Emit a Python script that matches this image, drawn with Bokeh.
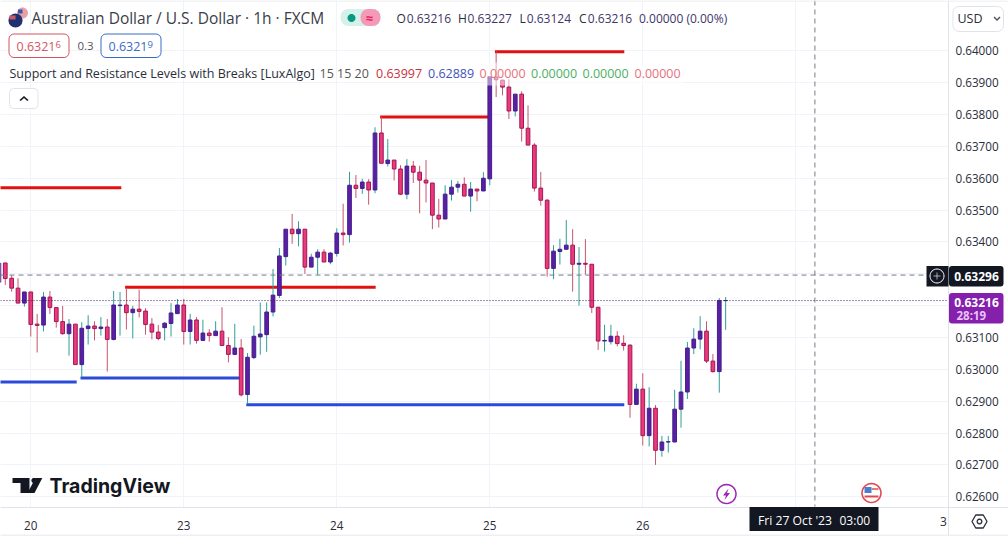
import numpy as np
from bokeh.plotting import figure
from bokeh.embed import file_html
from bokeh.resources import INLINE
from bokeh.models import Label, BoxAnnotation, PolyAnnotation, FixedTicker

opens = [0.63273,0.63334,0.63286,0.63255,0.63208,0.63243,0.63142,0.63139,0.63227,0.63194,0.63150,0.63112,0.63142,0.63015,0.63128,0.63136,0.63128,0.63133,0.63094,0.63200,
0.63202,0.63178,0.63189,0.63183,0.63142,0.63117,0.63131,0.63144,0.63175,0.63202,0.63119,0.63155,0.63091,0.63114,0.63106,0.63120,0.63075,0.63047,0.63067,0.62921,
0.63037,0.63102,0.63109,0.63180,0.63232,0.63354,0.63440,0.63426,0.63440,0.63321,0.63352,0.63368,0.63337,0.63364,0.63428,0.63423,0.63578,0.63568,0.63588,0.63563,
0.63742,0.63646,0.63657,0.63629,0.63550,0.63638,0.63619,0.63594,0.63585,0.63484,0.63472,0.63550,0.63572,0.63581,0.63544,0.63566,0.63560,0.63598,0.63918,0.63908,
0.63886,0.63811,0.63864,0.63757,0.63704,0.63569,0.63531,0.63317,0.63370,0.63377,0.63390,0.63330,0.63333,0.63330,0.63195,0.63089,0.63087,0.63104,0.63082,0.63076,
0.62890,0.62938,0.62792,0.62878,0.62746,0.62772,0.62772,0.62875,0.62929,0.63067,0.63095,0.63120,0.63026,0.62993,0.63216]
highs = [0.63334,0.63334,0.63295,0.63286,0.63243,0.63243,0.63174,0.63243,0.63246,0.63194,0.63199,0.63158,0.63142,0.63148,0.63170,0.63151,0.63164,0.63158,0.63246,0.63243,
0.63255,0.63199,0.63250,0.63192,0.63161,0.63139,0.63148,0.63208,0.63221,0.63221,0.63174,0.63164,0.63156,0.63126,0.63151,0.63195,0.63101,0.63143,0.63095,0.63051,
0.63137,0.63210,0.63210,0.63315,0.63381,0.63440,0.63488,0.63465,0.63440,0.63363,0.63377,0.63377,0.63368,0.63443,0.63520,0.63620,0.63610,0.63598,0.63597,0.63760,
0.63792,0.63723,0.63657,0.63641,0.63660,0.63654,0.63639,0.63657,0.63585,0.63535,0.63578,0.63594,0.63591,0.63603,0.63588,0.63566,0.63619,0.63919,0.63997,0.63908,
0.63911,0.63864,0.63873,0.63829,0.63710,0.63620,0.63535,0.63390,0.63410,0.63469,0.63440,0.63384,0.63409,0.63330,0.63195,0.63140,0.63140,0.63120,0.63107,0.63079,
0.62955,0.62988,0.62944,0.62888,0.62791,0.62791,0.62936,0.63027,0.63086,0.63129,0.63167,0.63151,0.63048,0.63224,0.63227]
lows = [0.63273,0.63265,0.63244,0.63208,0.63197,0.63103,0.63053,0.63119,0.63174,0.63131,0.63109,0.63043,0.63015,0.62976,0.63078,0.63091,0.63106,0.62993,0.63091,0.63106,
0.63125,0.63097,0.63163,0.63109,0.63094,0.63091,0.63091,0.63103,0.63174,0.63078,0.63078,0.63081,0.63091,0.63087,0.63106,0.63075,0.63022,0.63046,0.62915,0.62892,
0.63032,0.63046,0.63055,0.63166,0.63224,0.63326,0.63394,0.63386,0.63300,0.63321,0.63297,0.63337,0.63330,0.63354,0.63389,0.63398,0.63538,0.63551,0.63517,0.63553,
0.63647,0.63637,0.63593,0.63547,0.63534,0.63585,0.63490,0.63524,0.63440,0.63445,0.63472,0.63530,0.63555,0.63544,0.63495,0.63528,0.63560,0.63578,0.63855,0.63860,
0.63786,0.63794,0.63715,0.63704,0.63558,0.63514,0.63291,0.63283,0.63329,0.63377,0.63244,0.63200,0.63297,0.63177,0.63061,0.63056,0.63078,0.63072,0.63059,0.62848,
0.62890,0.62761,0.62758,0.62700,0.62726,0.62739,0.62772,0.62817,0.62907,0.63048,0.63063,0.63020,0.62990,0.62927,0.63124]
closes = [0.63334,0.63285,0.63255,0.63208,0.63243,0.63141,0.63138,0.63227,0.63194,0.63150,0.63112,0.63142,0.63015,0.63129,0.63136,0.63128,0.63133,0.63094,0.63202,0.63202,
0.63178,0.63189,0.63182,0.63141,0.63117,0.63097,0.63145,0.63177,0.63202,0.63119,0.63155,0.63091,0.63114,0.63106,0.63120,0.63075,0.63047,0.63067,0.62920,0.63038,
0.63104,0.63111,0.63180,0.63233,0.63356,0.63440,0.63426,0.63440,0.63321,0.63352,0.63368,0.63337,0.63365,0.63428,0.63423,0.63578,0.63568,0.63588,0.63563,0.63742,
0.63647,0.63657,0.63629,0.63550,0.63638,0.63619,0.63594,0.63585,0.63484,0.63472,0.63550,0.63572,0.63581,0.63544,0.63566,0.63560,0.63600,0.63918,0.63909,0.63886,
0.63811,0.63864,0.63757,0.63704,0.63569,0.63531,0.63317,0.63371,0.63377,0.63390,0.63330,0.63333,0.63330,0.63195,0.63089,0.63091,0.63104,0.63081,0.63075,0.62890,
0.62938,0.62792,0.62878,0.62746,0.62772,0.62773,0.62875,0.62929,0.63067,0.63095,0.63120,0.63026,0.62993,0.63216,0.63216]

resistance_start = [-2, 19.8, 59.8, 77.8]
resistance_end = [19.2, 59.1, 77, 98.1]
resistance_level = [0.63570, 0.63258, 0.63792, 0.63997]
support_start = [-2, 12.8, 38.8]
support_end = [12.2, 37.8, 98.1]
support_level = [0.62960, 0.62973, 0.62889]

price_ticks = [0.626,0.627,0.628,0.629,0.630,0.631,0.632,0.633,0.634,0.635,0.636,0.637,0.638,0.639,0.640]
day_ticks = [5, 29, 53, 77, 101, 125]
day_labels = ["20", "23", "24", "25", "26", "27"]
last_price = 0.63216
cross_price = 0.63296
cross_index = 128

# Pixel <-> data mapping of the frame, used for chrome placed by pixel
DX = 6.375
X0 = 1.6
PPU = 31857.0
def X(px): return (px + X0) / DX
def Y(py): return 0.64 - (py - 50.3) / PPU

TFONT = "Open Sans"
p = figure(frame_width=1008, frame_height=537, output_backend="svg", toolbar_location=None,
           x_range=(X(0), X(1008)), y_range=(Y(537), Y(0)), min_border=0, y_axis_location="right",
           background_fill_color="white", border_fill_color="white", outline_line_color=None)
p.styles = {"position": "absolute", "left": "0px", "top": "0px"}

p.xaxis.ticker = FixedTicker(ticks=day_ticks)
p.xaxis.major_label_overrides = dict(zip(day_ticks, day_labels))
p.xaxis.fixed_location = Y(506.5)
p.yaxis.ticker = FixedTicker(ticks=price_ticks)
p.yaxis.major_label_overrides = {t: f"{t:.5f}" for t in price_ticks}
p.yaxis.fixed_location = X(948)
for ax in (p.xaxis, p.yaxis):
    ax.axis_line_color = "#e0e3eb"
    ax.major_tick_line_color = None
    ax.minor_tick_line_color = None
    ax.major_label_text_font = TFONT
    ax.major_label_text_font_size = "11.7px"
    ax.major_label_text_color = "#2a2e39"
p.yaxis.major_label_standoff = 1
p.xaxis.major_label_standoff = 8
p.xgrid.grid_line_color = "#f0f3fa"
p.ygrid.grid_line_color = "#f0f3fa"
p.xgrid.ticker = FixedTicker(ticks=day_ticks)
p.ygrid.ticker = FixedTicker(ticks=price_ticks)

def L(text, px, py, size=12.5, color="#2a2e39", align="left", weight="normal", font=TFONT):
    p.add_layout(Label(x=X(px), y=Y(py), text=text, text_font=font, text_font_size=f"{size}px",
                       text_color=color, text_align=align, text_baseline="middle", text_font_style=weight))

def B(x0, x1, y0, y1, fill=None, line=None, alpha=1.0, radius=0, width=1, level="annotation"):
    p.add_layout(BoxAnnotation(left=X(x0), right=X(x1), bottom=Y(y1), top=Y(y0), fill_color=fill, fill_alpha=alpha if fill else 0,
                               line_color=line, line_alpha=1 if line else 0, line_width=width, border_radius=radius, level=level))

def P(xs, ys, fill=None, line=None, width=1.0):
    p.add_layout(PolyAnnotation(xs=[X(a) for a in xs], ys=[Y(b) for b in ys], fill_color=fill, fill_alpha=1 if fill else 0,
                                line_color=line, line_alpha=1 if line else 0, line_width=width))

def ring(cx, cy, r, n=32):
    t = np.linspace(0, 2 * np.pi, n, endpoint=False)
    return [float(v) for v in cx + r * np.cos(t)], [float(v) for v in cy + r * np.sin(t)]

# panes hide the grid outside the plotting area
B(948.5, 1008, 0, 537, fill="white", level="underlay")
B(0, 1008, 506.5, 537, fill="white", level="underlay")

idx = np.arange(len(opens))
o, h, l, c = map(np.array, (opens, highs, lows, closes))
up = c >= o

p.segment(resistance_start, resistance_level, resistance_end, resistance_level, line_color="#e31010", line_width=3)
p.segment(support_start, support_level, support_end, support_level, line_color="#2a4bd7", line_width=3)

p.segment(idx[up], h[up], idx[up], l[up], line_color="#2f9e98", line_width=1)
p.segment(idx[~up], h[~up], idx[~up], l[~up], line_color="#c8566b", line_width=1)
p.vbar(idx[up], 0.58, np.maximum(o, c)[up], np.minimum(o, c)[up], fill_color="#5a1fa3", line_color="#42208f", line_width=1)
p.vbar(idx[~up], 0.58, np.maximum(o, c)[~up], np.minimum(o, c)[~up], fill_color="#ea3a7c", line_color="#a31554", line_width=1)

p.segment([X(0)], [cross_price], [X(948)], [cross_price], line_color="#787b86", line_dash="5 4", line_width=1)
p.segment([cross_index], [Y(0)], [cross_index], [Y(506)], line_color="#787b86", line_dash="5 4", line_width=1)
p.segment([X(0)], [last_price], [X(948)], [last_price], line_color="#3b1a6e", line_dash="1 2", line_width=1)

# indicator legend veil over the candles
B(484, 682, 62, 85, fill="white", alpha=0.5)

# header
xs, ys = ring(22, 12.5, 5.5); P(xs, ys, fill="#e8a0a8")
P([17.5, 22, 22, 17.5], [9, 9, 13, 13], fill="#3a5aa8")
xs, ys = ring(15, 20, 7); P(xs, ys, fill="#23306f")
P([9, 15, 15, 9], [15, 15, 19, 19], fill="#c85a6a")
L("Australian Dollar / U.S. Dollar · 1h · FXCM", 31, 17.5, 15.5, "#3a3e49")

B(340, 380, 8.5, 25.5, fill="#d6f0ea", radius=8)
B(360, 380, 8.5, 25.5, fill="#f49ab8", radius=8)
xs, ys = ring(351, 17.5, 4); P(xs, ys, fill="#089981")
L("≈", 369, 17, 13, "#e91e63", "center", "bold")

ohlc = [("O", "0.63216", 396), ("H", "0.63227", 457.5), ("L", "0.63124", 519), ("C", "0.63216", 578.5)]
wid = {"O": 10.2, "H": 9.6, "L": 7.2, "C": 8.8}
for a, b, x in ohlc:
    L(a, x, 17.5, 12, "#2a2e39")
    L(b, x + wid[a], 17.5, 12, "#3f3569")
L("0.00000 (0.00%)", 638.5, 17.5, 12, "#3f3569")

B(8.5, 68.5, 33.5, 57, fill="white", line="#d3545f", radius=5)
L("0.6321", 16, 45.5, 12.5, "#d3545f")
L("6", 55, 43.5, 9.5, "#d3545f")
L("0.3", 77, 45.5, 11.5, "#555555")
B(100.5, 160.5, 33.5, 57, fill="white", line="#3a6bc4", radius=5)
L("0.6321", 108, 45.5, 12.5, "#3a6bc4")
L("9", 147, 43.5, 9.5, "#3a6bc4")

L("Support and Resistance Levels with Breaks [LuxAlgo]", 9, 73, 12.5, "#2a2e39")
L("15 15 20", 319, 73, 12.5, "#555555")
vals = [("0.63997", 375.5, "#c8323c"), ("0.62889", 427.5, "#3f55bb"), ("0.00000", 479, "#e8707a"),
        ("0.00000", 530.5, "#4caf62"), ("0.00000", 582, "#4caf62"), ("0.00000", 634, "#e8707a")]
for t, x, col in vals:
    L(t, x, 73, 12.5, col)

B(9, 37.5, 88, 108, fill="white", line="#e0e3eb", radius=4)
P([19, 23.5, 28, 26.8, 23.5, 20.2], [99.5, 95.5, 99.5, 100.5, 97.5, 100.5], fill="#131722")

# TradingView mark
P([12, 29, 29, 20, 20, 12], [477.5, 477.5, 492.5, 492.5, 482.5, 482.5], fill="#131722")
xs, ys = ring(33.5, 480, 2.6); P(xs, ys, fill="#131722")
P([35, 41.8, 34, 27], [477.5, 477.5, 492.5, 492.5], fill="#131722")
L("TradingView", 49, 485.5, 19.5, "#131722", weight="bold", font="Inter")

# event icons
xs, ys = ring(726, 493.5, 9.5); P(xs, ys, fill="white", line="#9c27b0", width=1.5)
P([728, 722.5, 725.5, 724, 729.5, 726.5], [488, 495, 495, 499.5, 492.5, 492.5], fill="#9c27b0")
xs, ys = ring(871, 492.5, 9.5); P(xs, ys, fill="white", line="#e04a50", width=1.6)
P([864, 871, 871, 864], [486.5, 486.5, 492.5, 492.5], fill="#4a7fd0")
P([871, 878, 878, 871], [487.5, 487.5, 489.5, 489.5], fill="#e57a80")
P([864, 878, 878, 864], [495, 495, 497, 497], fill="#e04a50")

# right pane
B(952.5, 1003, 6, 31, fill="white", line="#e0e3eb", radius=6)
L("USD", 957, 18, 12.5, "#2a2e39")
P([993, 996.5, 1000, 999, 996.5, 994], [17, 20.5, 17, 16, 18.5, 16], fill="#555555")

B(926, 948, 265.5, 286, fill="#131722")
xs, ys = ring(936.5, 275.5, 7); P(xs, ys, line="white", width=1)
B(933, 940, 275.2, 275.8, fill="white")
B(936.2, 936.8, 272, 279, fill="white")
B(948.5, 1003, 265.5, 286, fill="#131722", radius=3)
L("0.63296", 976, 276, 12, "white", "center", "bold")
B(948.5, 1003, 292.5, 323, fill="#8420ac", radius=3)
L("0.63216", 976, 301.5, 12, "white", "center", "bold")
L("28:19", 956, 314.5, 11.5, "#e9c2f5", "left", "bold")

B(749, 878, 506.5, 530.5, fill="#131722")
L("Fri 27 Oct '23", 757.5, 520, 12.2, "white")
L("03:00", 839, 520, 12, "white")
L("3", 943, 520.5, 12, "#2a2e39", "center")

t = np.linspace(0, 2 * np.pi, 6, endpoint=False)
P([float(v) for v in 979 + 7.5 * np.cos(t)], [float(v) for v in 521 + 7.5 * np.sin(t)], line="#2a2e39", width=1.3)
xs, ys = ring(979, 521, 2.3); P(xs, ys, line="#2a2e39", width=1.3)

# outer hairlines
B(0, 1008, 0, 1, fill="#e6e8ec")
B(0, 1008, 534.3, 535.3, fill="#e0e3eb")
B(0, 1008, 535.3, 537, fill="white")

open("out.html", "w").write(file_html(p, INLINE))
